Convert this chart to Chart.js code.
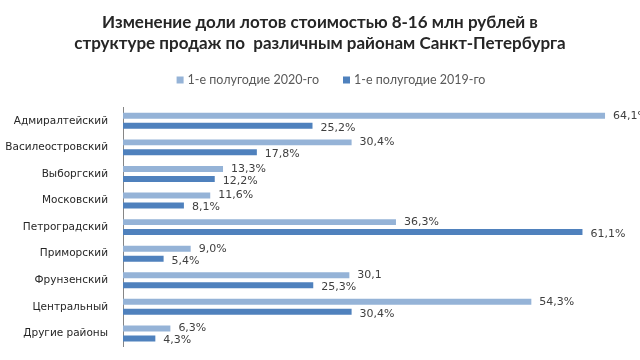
<!DOCTYPE html>
<html><head><meta charset="utf-8">
<script src="https://cdn.jsdelivr.net/npm/chart.js@4"></script>
<style>html,body{margin:0;padding:0;background:#fff}#w{width:640px;height:360px}</style>
</head><body><div id="w"><canvas id="c" width="640" height="360"></canvas></div>
<script>
const categories = ["Адмиралтейский","Василеостровский","Выборгский","Московский","Петроградский","Приморский","Фрунзенский","Центральный","Другие районы"];
const series2020 = [64.1,30.4,13.3,11.6,36.3,9.0,30.1,54.3,6.3];
const series2019 = [25.2,17.8,12.2,8.1,61.1,5.4,25.3,30.4,4.3];
const labels2020 = ["64,1%","30,4%","13,3%","11,6%","36,3%","9,0%","30,1","54,3%","6,3%"];
const labels2019 = ["25,2%","17,8%","12,2%","8,1%","61,1%","5,4%","25,3%","30,4%","4,3%"];
const seriesNames = ["1-е полугодие 2020-го","1-е полугодие 2019-го"];
const seriesColors = ['#95B3D7','#4F81BD'];
const titleLines = ["Изменение доли лотов стоимостью 8-16 млн рублей в","структуре продаж по  различным районам Санкт-Петербурга"];

const valueLabels = {
  id:'valueLabels',
  afterDatasetsDraw(chart){
    const ctx = chart.ctx;
    ctx.save();
    ctx.font = '11px "DejaVu Sans"';
    ctx.fillStyle = '#404040';
    ctx.textBaseline = 'middle';
    ctx.textAlign = 'left';
    const sets = [labels2020, labels2019];
    chart.data.datasets.forEach((ds, di) => {
      const meta = chart.getDatasetMeta(di);
      meta.data.forEach((bar, i) => {
        ctx.fillText(sets[di][i], bar.x + 8, bar.y + (di === 0 ? 0 : 2));
      });
    });
    ctx.restore();
  }
};

const customLegend = {
  id:'customLegend',
  afterDraw(chart){
    const ctx = chart.ctx;
    ctx.save();
    ctx.font = '12.5px Lato';
    ctx.textBaseline = 'middle';
    ctx.textAlign = 'left';
    const box = 7, gapText = 4, gapItem = 24, y = 80;
    const widths = chart.data.datasets.map(d => ctx.measureText(d.label).width);
    const total = widths.reduce((a,w)=>a+box+gapText+w,0) + gapItem*(widths.length-1);
    let x = 331 - total/2;
    chart.data.datasets.forEach((d, i) => {
      ctx.fillStyle = d.backgroundColor;
      ctx.fillRect(x, y - box/2, box, box);
      x += box + gapText;
      ctx.fillStyle = '#595959';
      ctx.fillText(d.label, x, y);
      x += widths[i] + gapItem;
    });
    ctx.restore();
  }
};

new Chart(document.getElementById('c'), {
  type: 'bar',
  data: {
    labels: categories,
    datasets: [
      {label: seriesNames[0], data: series2020, backgroundColor: seriesColors[0], categoryPercentage: 0.75, barPercentage: 0.6},
      {label: seriesNames[1], data: series2019, backgroundColor: seriesColors[1], categoryPercentage: 0.75, barPercentage: 0.6}
    ]
  },
  options: {
    indexAxis: 'y',
    responsive: false,
    animation: false,
    layout: {padding: {left: 0, right: 0, top: 0, bottom: 13}},
    scales: {
      x: {display: false, min: 0, max: 68.75},
      y: {
        grid: {display: false},
        border: {display: true, color: '#868686'},
        ticks: {color: '#262626', font: {family: '"DejaVu Sans"', size: 10.5}, padding: 7},
        afterFit(s){ s.width = 123; }
      }
    },
    plugins: {
      title: {display: true, text: titleLines, color: '#262626', font: {family: 'Lato', size: 17, weight: 'bold', lineHeight: 1.25}, padding: {top: 12, bottom: 53}},
      legend: {display: false},
      tooltip: {enabled: false}
    }
  },
  plugins: [valueLabels, customLegend]
});
</script>
</body></html>
